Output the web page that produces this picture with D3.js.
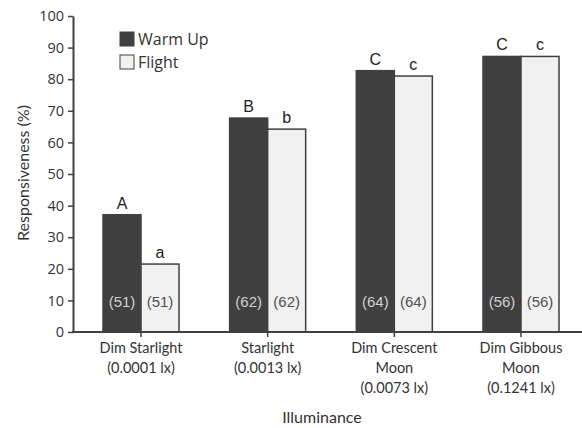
<!DOCTYPE html>
<html>
<head>
<meta charset="utf-8">
<script src="https://cdn.jsdelivr.net/npm/d3@7"></script>
<style>
  body { margin: 0; background: #fff; }
  svg { display: block; }
</style>
</head>
<body>
<div id="chart"></div>
<script>
const WIDTH = 582;
const HEIGHT = 428;

const categories = [
  ["Dim Starlight", "(0.0001 lx)"],
  ["Starlight", "(0.0013 lx)"],
  ["Dim Crescent", "Moon", "(0.0073 lx)"],
  ["Dim Gibbous", "Moon", "(0.1241 lx)"]
];
const seriesNames = ["Warm Up", "Flight"];
const warmUp = [37.1, 67.7, 82.7, 87.2];
const flight = [21.5, 64.2, 81.0, 87.2];
const warmLetters = ["A", "B", "C", "C"];
const flightLetters = ["a", "b", "c", "c"];
const sampleSizes = [51, 62, 64, 56];
const yTicks = [0, 10, 20, 30, 40, 50, 60, 70, 80, 90, 100];

const DARK = "#404040";
const LIGHT = "#f1f1f1";
const FONT = "'Open Sans', sans-serif";
const LABEL_FONT = "Lato, 'Open Sans', sans-serif";
const MARK_FONT = "'Liberation Sans', Arial, sans-serif";

const svg = d3.select("#chart")
  .append("svg")
  .attr("width", WIDTH)
  .attr("height", HEIGHT);

const y = d3.scaleLinear().domain([0, 100]).range([332, 16]);
// category centres
const x = d3.scalePoint()
  .domain(d3.range(categories.length))
  .range([141, 521]);
// series within a category, relative to the centre
const xs = d3.scaleBand()
  .domain(seriesNames)
  .range([-38, 38]);

const rows = categories.map((c, i) => ({
  i,
  vals: [
    { s: "Warm Up", v: warmUp[i], letter: warmLetters[i], n: sampleSizes[i] },
    { s: "Flight", v: flight[i], letter: flightLetters[i], n: sampleSizes[i] }
  ]
}));

const groups = svg.selectAll("g.group")
  .data(rows)
  .enter()
  .append("g")
  .attr("class", "group")
  .attr("transform", d => `translate(${x(d.i)},0)`);

groups.selectAll("rect")
  .data(d => d.vals)
  .enter()
  .append("rect")
  .attr("x", d => xs(d.s))
  .attr("y", d => y(d.v))
  .attr("width", xs.bandwidth())
  .attr("height", d => y(0) - y(d.v))
  .style("fill", d => d.s == "Warm Up" ? DARK : LIGHT)
  .style("stroke", DARK)
  .style("stroke-width", 1.5);

groups.selectAll("text.letter")
  .data(d => d.vals)
  .enter()
  .append("text")
  .attr("class", "letter")
  .attr("x", d => xs(d.s) + xs.bandwidth() / 2)
  .attr("y", d => y(d.v) - 6)
  .attr("text-anchor", "middle")
  .style("font-family", MARK_FONT)
  .style("font-size", "16px")
  .style("fill", "#222")
  .text(d => d.letter);

groups.selectAll("text.n")
  .data(d => d.vals)
  .enter()
  .append("text")
  .attr("class", "n")
  .attr("x", d => xs(d.s) + xs.bandwidth() / 2)
  .attr("y", y(9.5))
  .attr("dy", "0.35em")
  .attr("text-anchor", "middle")
  .style("font-family", MARK_FONT)
  .style("font-size", "15px")
  .style("fill", d => d.s == "Warm Up" ? "#d0d0d0" : "#505050")
  .text(d => `(${d.n})`);

// y axis
const yAxis = svg.append("g")
  .attr("transform", "translate(73,0)")
  .call(d3.axisLeft(y).tickValues(yTicks).tickSize(5).tickSizeOuter(0));
yAxis.select(".domain").style("stroke", DARK).style("stroke-width", 2);
yAxis.selectAll(".tick line").style("stroke", DARK).style("stroke-width", 1.5);
yAxis.selectAll(".tick text")
  .attr("x", -9)
  .style("font-family", FONT)
  .style("font-size", "14.5px")
  .style("fill", "#333");

// x axis
const xAxisG = svg.append("g");
xAxisG.append("line")
  .attr("x1", 72).attr("x2", 582)
  .attr("y1", y(0)).attr("y2", y(0))
  .style("stroke", DARK)
  .style("stroke-width", 2);
const xTicks = xAxisG.selectAll("g.xtick")
  .data(categories)
  .enter()
  .append("g")
  .attr("class", "xtick")
  .attr("transform", (d, i) => `translate(${x(i)},${y(0)})`);
xTicks.append("line")
  .attr("y1", 0).attr("y2", 5)
  .style("stroke", DARK)
  .style("stroke-width", 1.5);
xTicks.each(function(lines) {
  const t = d3.select(this).append("text")
    .attr("text-anchor", "middle")
    .style("font-family", LABEL_FONT)
    .style("font-size", "14.5px")
    .style("fill", "#333");
  lines.forEach((l, k) => {
    t.append("tspan").attr("x", 0).attr("y", 21 + k * 20).text(l);
  });
});

// axis titles
svg.append("text")
  .attr("transform", `translate(29,173) rotate(-90)`)
  .attr("text-anchor", "middle")
  .style("font-family", LABEL_FONT)
  .style("font-size", "16px")
  .style("fill", "#333")
  .text("Responsiveness (%)");
svg.append("text")
  .attr("x", 322)
  .attr("y", 423)
  .attr("text-anchor", "middle")
  .style("font-family", LABEL_FONT)
  .style("font-size", "16px")
  .style("fill", "#333")
  .text("Illuminance");

// legend
const legend = svg.selectAll("g.legend")
  .data(seriesNames)
  .enter()
  .append("g")
  .attr("class", "legend")
  .attr("transform", (d, i) => `translate(120,${32 + i * 23})`);
legend.append("rect")
  .attr("width", 14).attr("height", 14)
  .style("fill", d => d == "Warm Up" ? DARK : LIGHT)
  .style("stroke", DARK)
  .style("stroke-width", 1);
legend.append("text")
  .attr("x", 18).attr("y", 13)
  .style("font-family", FONT)
  .style("font-size", "16px")
  .style("fill", "#333")
  .text(d => d);
</script>
</body>
</html>
